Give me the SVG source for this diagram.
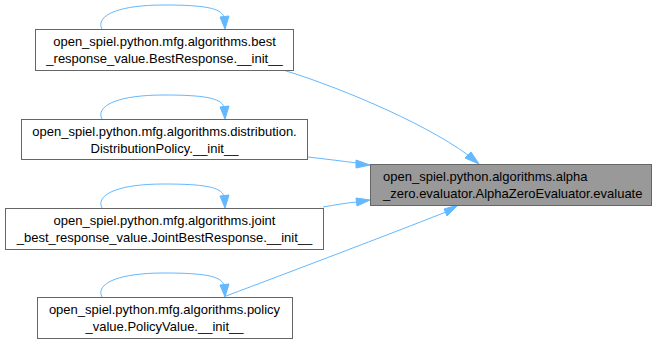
<svg xmlns="http://www.w3.org/2000/svg" width="656" height="343" viewBox="0 0 656 343">
  <style>
    .box { fill: #ffffff; stroke: #666666; stroke-width: 1; }
    .hl { fill: #999999; stroke: #666666; stroke-width: 1; }
    .lbl { font-family: "Liberation Sans", Arial, sans-serif; font-size: 13px; fill: #000000; }
    .mid { text-anchor: middle; }
    .edge { fill: none; stroke: #63b8ff; stroke-width: 1; }
    .head { fill: #63b8ff; stroke: #63b8ff; stroke-width: 1; }
  </style>
  <rect width="656" height="343" fill="#ffffff"/>

  <g id="connectors">
    <!-- self loops -->
    <path class="edge" d="M102,29 C96,18 112,5 164,5 C204,5 221,8 224,17"/>
    <polygon class="head" points="220,17 229,16 225,29"/>
    <path class="edge" d="M102,119 C96,108 112,95 164,95 C204,95 221,98 224,107"/>
    <polygon class="head" points="220,107 229,106 225,119"/>
    <path class="edge" d="M102,208 C96,197 112,184 164,184 C204,184 221,187 224,196"/>
    <polygon class="head" points="220,196 229,195 225,208"/>
    <path class="edge" d="M102,297 C96,286 112,273 164,273 C204,273 221,276 224,285"/>
    <polygon class="head" points="220,285 229,284 225,297"/>
    <!-- calls into evaluate -->
    <path class="edge" d="M283,70 C330,84 420,120 468,155"/>
    <polygon class="head" points="465,158 471,152 479,164"/>
    <path class="edge" d="M308,157 C325,159 342,161 357,163"/>
    <polygon class="head" points="356,160 356,168 370,165"/>
    <path class="edge" d="M323,207 C335,205 345,203 357,202"/>
    <polygon class="head" points="356,198 357,206 370,200"/>
    <path class="edge" d="M226,296 C290,272 390,234 446,212"/>
    <polygon class="head" points="444,209 447,216 458,205"/>
  </g>

  <g id="node-best-response">
    <rect class="box" x="35.5" y="29.5" width="258" height="41"/>
    <text class="lbl mid" x="164.5" y="46">open_spiel.python.mfg.algorithms.best</text>
    <text class="lbl mid" x="164.5" y="63">_response_value.BestResponse.__init__</text>
  </g>

  <g id="node-distribution-policy">
    <rect class="box" x="21.5" y="119.5" width="286" height="40"/>
    <text class="lbl mid" x="164.5" y="136">open_spiel.python.mfg.algorithms.distribution.</text>
    <text class="lbl mid" x="164.5" y="153">DistributionPolicy.__init__</text>
  </g>

  <g id="node-joint-best-response">
    <rect class="box" x="5.5" y="208.5" width="318" height="41"/>
    <text class="lbl mid" x="164.5" y="225">open_spiel.python.mfg.algorithms.joint</text>
    <text class="lbl mid" x="164.5" y="242">_best_response_value.JointBestResponse.__init__</text>
  </g>

  <g id="node-policy-value">
    <rect class="box" x="37.5" y="297.5" width="255" height="41"/>
    <text class="lbl mid" x="164.5" y="314">open_spiel.python.mfg.algorithms.policy</text>
    <text class="lbl mid" x="164.5" y="331">_value.PolicyValue.__init__</text>
  </g>

  <g id="node-evaluate">
    <rect class="hl" x="370.5" y="164.5" width="281" height="41"/>
    <text class="lbl" x="383" y="181">open_spiel.python.algorithms.alpha</text>
    <text class="lbl" x="383" y="198">_zero.evaluator.AlphaZeroEvaluator.evaluate</text>
  </g>
</svg>
